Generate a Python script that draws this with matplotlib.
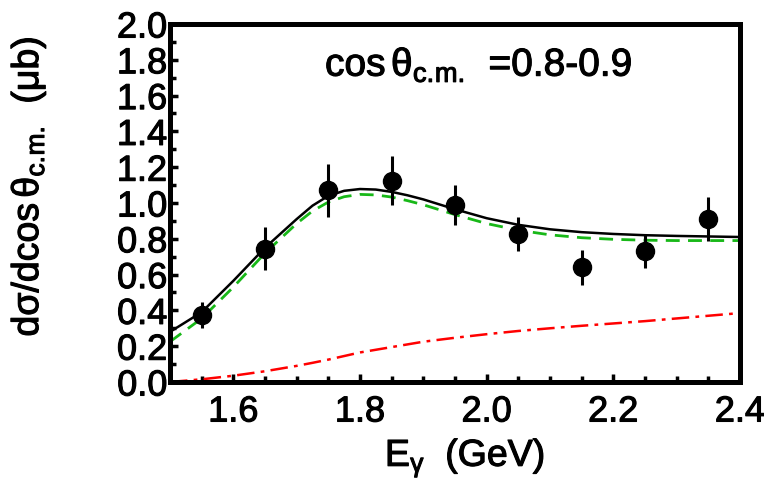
import matplotlib
matplotlib.use("Agg")
import matplotlib.pyplot as plt
import matplotlib.patheffects as pe
from matplotlib.ticker import MultipleLocator

plt.rcParams['font.family'] = ['Liberation Sans', 'DejaVu Sans']
plt.rcParams['mathtext.fontset'] = 'custom'
plt.rcParams['mathtext.rm'] = 'Liberation Sans'
plt.rcParams['mathtext.it'] = 'Liberation Sans'
plt.rcParams['mathtext.bf'] = 'Liberation Sans:bold'
plt.rcParams['mathtext.default'] = 'regular'

# measured cross sections
e_gamma = [1.55, 1.65, 1.75, 1.85, 1.95, 2.05, 2.15, 2.25, 2.35]
dsigma = [0.375, 0.745, 1.07, 1.125, 0.99, 0.826, 0.642, 0.733, 0.91]
dsigma_err = [0.072, 0.122, 0.148, 0.136, 0.112, 0.097, 0.098, 0.094, 0.125]

# model curves
e_model = [1.50, 1.55, 1.60, 1.65, 1.70, 1.725, 1.75, 1.775, 1.80, 1.825, 1.85,
           1.875, 1.90, 1.95, 2.00, 2.05, 2.10, 2.15, 2.20, 2.25, 2.30, 2.35, 2.40]
total = [0.28, 0.39, 0.565, 0.75, 0.91, 0.985, 1.04, 1.068, 1.078, 1.075, 1.062,
         1.043, 1.02, 0.965, 0.915, 0.878, 0.853, 0.837, 0.827, 0.82, 0.816, 0.813, 0.81]
resonant = [0.225, 0.355, 0.53, 0.72, 0.885, 0.955, 1.005, 1.035, 1.048, 1.045, 1.033,
            1.013, 0.99, 0.935, 0.885, 0.848, 0.822, 0.806, 0.797, 0.792, 0.79, 0.79, 0.79]
background = [0.0, 0.015, 0.035, 0.06, 0.09, 0.107, 0.125, 0.145, 0.165, 0.18, 0.195,
              0.21, 0.225, 0.247, 0.267, 0.285, 0.30, 0.314, 0.327, 0.34, 0.355, 0.37, 0.385]

x_ticks = [1.6, 1.8, 2.0, 2.2, 2.4]
y_ticks = [0.0, 0.2, 0.4, 0.6, 0.8, 1.0, 1.2, 1.4, 1.6, 1.8, 2.0]

# slightly heavier glyph strokes
heavy = [pe.withStroke(linewidth=0.8, foreground='black')]

fig = plt.figure(figsize=(7.64, 4.89), dpi=100)
ax = fig.add_axes([0.2225, 0.2168, 0.7461, 0.7321])

ax.plot(e_model, background, color='red', lw=1.8, dashes=[7, 2.5, 1.5, 2.5])
ax.plot(e_model, resonant, color='#18b818', lw=2.0, dashes=[5, 3])
ax.plot(e_model, total, color='black', lw=1.8)
ax.errorbar(e_gamma, dsigma, yerr=dsigma_err, fmt='o', color='black',
            ms=13, elinewidth=2.2, capsize=0, zorder=5)

ax.set_xlim(1.5, 2.4)
ax.set_ylim(0.0, 2.0)
ax.set_xticks(x_ticks)
ax.set_yticks(y_ticks)
ax.set_xticklabels([f"{v:.1f}" for v in x_ticks])
ax.set_yticklabels([f"{v:.1f}" for v in y_ticks])
ax.xaxis.set_minor_locator(MultipleLocator(0.05))
ax.yaxis.set_minor_locator(MultipleLocator(0.1))

for side in ax.spines.values():
    side.set_linewidth(3.6)
ax.tick_params(which='both', direction='in', top=False, right=False,
               labelsize=26, width=2.5)
ax.tick_params(axis='y', which='major', length=6, pad=2)
ax.tick_params(axis='y', which='minor', length=4)
ax.tick_params(axis='x', which='major', length=6, pad=9)
ax.tick_params(axis='x', which='minor', length=4)
for lab in ax.get_xticklabels() + ax.get_yticklabels():
    lab.set_path_effects(heavy)

ax.text(0.272, 0.855, r'cos$\,\theta_{c.\!m.\!}\ \ $=0.8-0.9', transform=ax.transAxes,
        fontsize=28, ha='left', va='baseline', path_effects=heavy)

fig.text(0.037, 0.6166, r'd$\sigma$/dcos$\,\theta_{c.\!m.\!}$  ($\mu$b)', rotation=90,
         fontsize=27, ha='center', va='center', path_effects=heavy)
fig.text(465 / 764, 0.045, r'E$_{\gamma}$  (GeV)', fontsize=27,
         ha='center', va='baseline', path_effects=heavy)

fig.savefig('out.png', dpi=100)
